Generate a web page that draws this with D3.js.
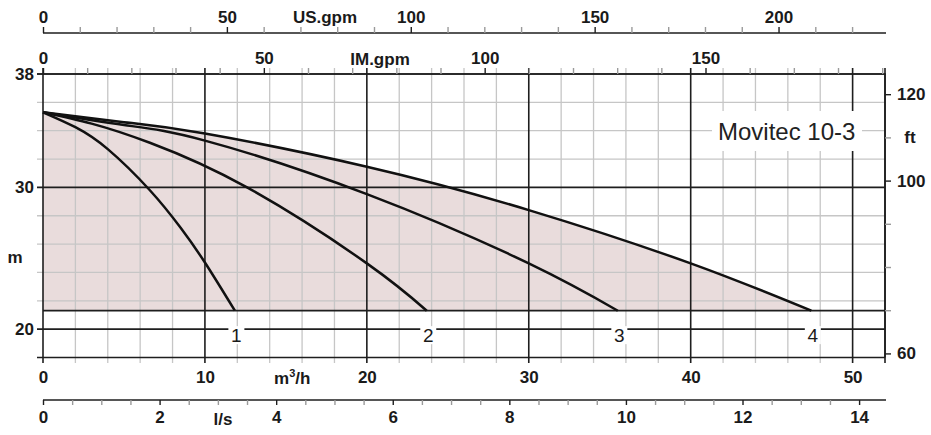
<!DOCTYPE html>
<html><head><meta charset="utf-8">
<script src="https://cdn.jsdelivr.net/npm/d3@7"></script>
<style>body{margin:0;background:#fff} text{font-family:"Liberation Sans",Arial,sans-serif}</style>
</head><body><svg id="c" width="931" height="435"></svg>
<script>
// ---- data ----
const curveNames = ["1", "2", "3", "4"];
const q1 = [0, 2, 4, 6.6, 8.5, 10, 11.85];
const h1 = [35.3, 34.25, 32.7, 29.8, 27.15, 24.7, 21.3];
const q2 = [0, 3, 6.6, 12.6, 20, 23.7];
const h2 = [35.3, 34.5, 33.15, 30.0, 24.64, 21.3];
const q3 = [0, 5, 10, 20, 30, 35.5];
const h3 = [35.3, 34.4, 33.3, 29.53, 24.64, 21.3];
const q4 = [0, 5, 10, 20, 30, 40, 47.45];
const h4 = [35.3, 34.6, 33.8, 31.46, 28.4, 24.64, 21.3];
const minHead = 21.3;
const m3hTicks = [0, 10, 20, 30, 40, 50];
const usTicks = [0, 50, 100, 150, 200];
const imTicks = [0, 50, 100, 150];
const lsTicks = [0, 2, 4, 6, 8, 10, 12, 14];
const mTicks = [20, 30, 38];
const ftTicks = [60, 100, 120];
const ftMinor = [70, 80, 90, 110];
const title = "Movitec 10-3";

const svg = d3.select("#c");
const x = d3.scaleLinear().domain([0, 52]).range([43, 885]);
const y = d3.scaleLinear().domain([18, 38]).range([357.5, 74]);
const xUS = d3.scaleLinear().domain([0, 52 * 4.40287]).range([43, 885]);
const xIM = d3.scaleLinear().domain([0, 52 * 3.66615]).range([43, 885]);
const xLS = d3.scaleLinear().domain([0, 52 / 3.6]).range([43, 885]);
const yFt = d3.scaleLinear().domain([18 * 3.28084, 38 * 3.28084]).range([357.5, 74]);

const DARK = "#1e1e1e", LIGHT = "#c6c6c6", TXT = "#1a1a1a";
const curves = [[q1, h1], [q2, h2], [q3, h3], [q4, h4]].map(([q, h]) => q.map((v, i) => [v, h[i]]));

// fill under the largest curve
const area = d3.area().x(d => x(d[0])).y1(d => y(d[1])).y0(y(minHead)).curve(d3.curveNatural);
svg.append("path").datum(curves[3]).attr("d", area).attr("fill", "#e9dcdc");

// grid
const g = svg.append("g");
const vx = d3.range(0, 53, 2);
g.selectAll(".vl").data(vx.filter(v => v % 10 !== 0 && v !== 52)).join("line")
  .attr("x1", d => x(d)).attr("x2", d => x(d)).attr("y1", 68).attr("y2", 363)
  .attr("stroke", LIGHT).attr("stroke-width", 1.3);
const hy = d3.range(18, 39, 2);
g.selectAll(".hl").data(hy.filter(v => ![18, 20, 30, 38].includes(v))).join("line")
  .attr("x1", 37).attr("x2", x(52)).attr("y1", d => y(d)).attr("y2", d => y(d))
  .attr("stroke", LIGHT).attr("stroke-width", 1.3);
g.selectAll(".vd").data(vx.filter(v => v % 10 === 0 || v === 52)).join("line")
  .attr("x1", d => x(d)).attr("x2", d => x(d)).attr("y1", 68).attr("y2", 363)
  .attr("stroke", DARK).attr("stroke-width", 1.6);
g.selectAll(".hd").data([18, 20, 30, 38]).join("line")
  .attr("x1", 37).attr("x2", x(52)).attr("y1", d => y(d)).attr("y2", d => y(d))
  .attr("stroke", DARK).attr("stroke-width", 1.6);
g.append("line").attr("x1", x(0)).attr("x2", x(52)).attr("y1", y(minHead)).attr("y2", y(minHead))
  .attr("stroke", DARK).attr("stroke-width", 1.8);

// curves
const line = d3.line().x(d => x(d[0])).y(d => y(d[1])).curve(d3.curveNatural);
svg.selectAll(".crv").data(curves).join("path").attr("d", line)
  .attr("fill", "none").attr("stroke", "#111").attr("stroke-width", 2.5);

// curve number labels on the 20 m line
const lab = svg.append("g");
curves.forEach((c, i) => {
  const cx = x(c[c.length - 1][0]) + 1.5;
  lab.append("rect").attr("x", cx - 8).attr("y", y(20) - 3).attr("width", 16).attr("height", 18).attr("fill", "#fff");
  lab.append("text").attr("x", cx).attr("y", y(20) + 13).attr("text-anchor", "middle")
    .attr("font-size", 19).attr("fill", TXT).text(curveNames[i]);
});

// title with white background
svg.append("rect").attr("x", 712).attr("y", 111).attr("width", 150).attr("height", 40).attr("fill", "#fff");
svg.append("text").attr("x", 718).attr("y", 140).attr("font-size", 24).attr("fill", "#222").text(title);

function styleAxis(sel, majors) {
  sel.select(".domain").attr("stroke", DARK).attr("stroke-width", 1.6);
  sel.selectAll(".tick line").attr("stroke", d => majors.includes(d) ? DARK : "#9a9a9a").attr("stroke-width", 1.4);
  sel.selectAll(".tick text").attr("font-size", 17).attr("font-weight", "bold").attr("fill", TXT)
    .attr("font-family", "'Liberation Sans', Arial, sans-serif");
}

// top US.gpm axis
const usAll = d3.range(0, 229, 10);
const aUS = svg.append("g").attr("transform", "translate(0,33)")
  .call(d3.axisTop(xUS).tickValues(usAll).tickSizeOuter(0).tickSize(6).tickPadding(4)
    .tickFormat(d => usTicks.includes(d) ? d : ""));
styleAxis(aUS, usTicks);
aUS.select(".domain").attr("d", `M${x(0)},0H${x(52) + 1}`);
svg.append("text").attr("x", 325).attr("y", 23).attr("text-anchor", "middle").attr("font-size", 17)
  .attr("font-weight", "bold").attr("fill", TXT).text("US.gpm");

// top IM.gpm axis
const imAll = d3.range(0, 191, 10);
const aIM = svg.append("g").attr("transform", `translate(0,${y(38)})`)
  .call(d3.axisTop(xIM).tickValues(imAll).tickSizeOuter(0).tickSize(6).tickPadding(4)
    .tickFormat(d => imTicks.includes(d) ? d : ""));
styleAxis(aIM, imTicks);
aIM.select(".domain").attr("d", `M${x(0) - 6},0H${x(52) + 1}`);
svg.append("text").attr("x", 380).attr("y", 65).attr("text-anchor", "middle").attr("font-size", 17)
  .attr("font-weight", "bold").attr("fill", TXT).text("IM.gpm");

// bottom m3/h axis labels
const aM = svg.append("g").attr("transform", `translate(0,${y(18)})`)
  .call(d3.axisBottom(x).tickValues(m3hTicks).tickSize(0).tickPadding(13).tickSizeOuter(0));
styleAxis(aM, m3hTicks);
aM.select(".domain").remove();
const mt = svg.append("text").attr("x", 274).attr("y", 384).attr("font-size", 17)
  .attr("font-weight", "bold").attr("fill", TXT);
mt.append("tspan").text("m");
mt.append("tspan").attr("dy", -7).attr("font-size", 11).text("3");
mt.append("tspan").attr("dy", 7).text("/h");

// bottom l/s axis
const lsAll = d3.range(0, 14.5, 0.5);
const aLS = svg.append("g").attr("transform", "translate(0,400)")
  .call(d3.axisBottom(xLS).tickValues(lsAll).tickSize(5).tickPadding(6).tickSizeOuter(0)
    .tickFormat(d => lsTicks.includes(d) ? d : ""));
styleAxis(aLS, lsTicks);
aLS.select(".domain").attr("d", `M${x(0)},0H${x(52) + 1}`);
svg.append("text").attr("x", 223).attr("y", 425).attr("text-anchor", "middle").attr("font-size", 17)
  .attr("font-weight", "bold").attr("fill", TXT).text("l/s");

// left m axis labels
const aL = svg.append("g").attr("transform", `translate(${x(0)},0)`)
  .call(d3.axisLeft(y).tickValues(mTicks).tickSize(0).tickPadding(9).tickSizeOuter(0));
styleAxis(aL, mTicks);
aL.select(".domain").remove();
svg.append("text").attr("x", 15).attr("y", 263).attr("text-anchor", "middle").attr("font-size", 17)
  .attr("font-weight", "bold").attr("fill", TXT).text("m");

// right ft axis
const aR = svg.append("g").attr("transform", `translate(${x(52)},0)`)
  .call(d3.axisRight(yFt).tickValues(ftTicks.concat(ftMinor)).tickSize(6).tickPadding(6).tickSizeOuter(0)
    .tickFormat(d => ftTicks.includes(d) ? d : ""));
styleAxis(aR, ftTicks.concat(ftMinor));
aR.selectAll(".tick line").attr("stroke", d => ftTicks.includes(d) ? DARK : "#9a9a9a");
aR.select(".domain").attr("d", `M0,${y(38)}V${y(18)}`);
svg.append("text").attr("x", 910).attr("y", yFt(110) + 6).attr("text-anchor", "middle").attr("font-size", 17)
  .attr("font-weight", "bold").attr("fill", TXT).text("ft");
</script></body></html>
